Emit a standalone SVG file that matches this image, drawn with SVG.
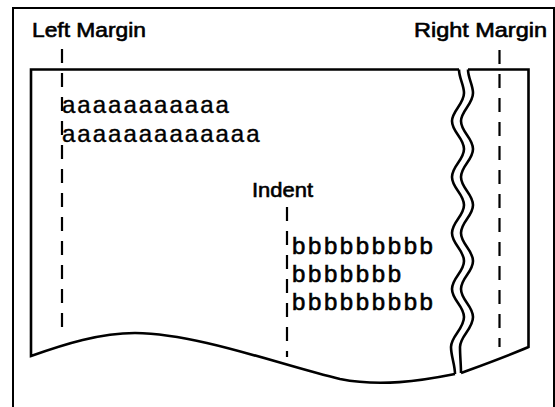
<svg xmlns="http://www.w3.org/2000/svg" width="555" height="407" viewBox="0 0 555 407">
<style>
.lbl{font-family:"Liberation Sans",Arial,sans-serif;font-size:20px;fill:#000;stroke:#000;stroke-width:0.6}
.a{font-family:"Liberation Sans",Arial,sans-serif;font-size:24px;letter-spacing:2px;fill:#000;stroke:#000;stroke-width:0.4}
.b{font-family:"Liberation Sans",Arial,sans-serif;font-size:24px;letter-spacing:2.6px;fill:#000;stroke:#000;stroke-width:0.6}
.edge{fill:none;stroke:#000;stroke-width:2.6;stroke-linejoin:miter}
.dash{fill:none;stroke:#000;stroke-width:2.2;stroke-dasharray:14 10}
</style>
<rect width="555" height="407" fill="#fff"/>
<g id="frame"><rect x="13" y="8" width="541" height="420" fill="none" stroke="#000" stroke-width="2"/></g>
<g id="paper">
<path class="edge" d="M459,69.5 L31,69.5 L31,356 C65,344 100,333 135,333 C200,334 280,365 340,379 C380,387 420,381 455,374"/>
<path class="edge" d="M459,69.5 C459,78 464,85 464,93 C464,104 452,111 452,121 C452,132 464,138 464,149 C464,160 452,166 452,177 C452,188 464,194 464,205 C464,216 452,222 452,233 C452,244 464,250 464,261 C464,272 452,278 452,289 C452,300 464,306 464,317 C464,329 451,336 451,347 C451,356 455,365 455,374"/>
<path class="edge" d="M468,69.5 L528.5,69.5 L528.5,347 C505,357 480,366 461,373"/>
<path class="edge" d="M468,69.5 C468,78 473,85 473,93 C473,104 461,111 461,121 C461,132 473,138 473,149 C473,160 461,166 461,177 C461,188 473,194 473,205 C473,216 461,222 461,233 C461,244 473,250 473,261 C473,272 461,278 461,289 C461,300 473,306 473,317 C473,329 460,336 460,347 C460,356 461,365 461,373"/>
</g>
<g id="connectors">
<line class="dash" x1="62" y1="49" x2="62" y2="335"/>
<line class="dash" x1="287" y1="207" x2="287" y2="357"/>
<line class="dash" x1="499.5" y1="50" x2="499.5" y2="347"/>
</g>
<g id="left-margin"><text class="lbl" x="32" y="37" textLength="114" lengthAdjust="spacingAndGlyphs">Left Margin</text></g>
<g id="right-margin"><text class="lbl" x="414" y="37" textLength="133" lengthAdjust="spacingAndGlyphs">Right Margin</text></g>
<g id="indent"><text class="lbl" x="252" y="197" font-size="21" textLength="61" lengthAdjust="spacingAndGlyphs">Indent</text></g>
<g id="text-a">
<text class="a" x="62" y="113">aaaaaaaaaaa</text>
<text class="a" x="62" y="142">aaaaaaaaaaaaa</text>
</g>
<g id="text-b">
<text class="b" x="292" y="254">bbbbbbbbb</text>
<text class="b" x="292" y="282">bbbbbbb</text>
<text class="b" x="292" y="310">bbbbbbbbb</text>
</g>
</svg>
